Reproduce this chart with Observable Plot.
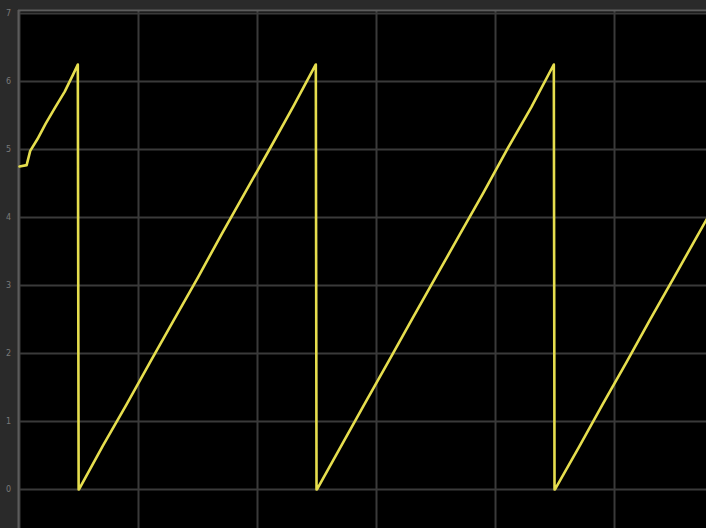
<!DOCTYPE html>
<html>
<head>
<meta charset="utf-8">
<script src="https://cdn.jsdelivr.net/npm/d3@7"></script>
<script src="https://cdn.jsdelivr.net/npm/@observablehq/plot@0.6"></script>
<style>
  html, body { margin: 0; padding: 0; background: #2c2c2c; }
  svg { display: block; }
</style>
</head>
<body>
<div id="chart"></div>
<script>
// Time (grid divisions) and signal values
const time = [
  0.00, 0.06, 0.09, 0.15, 0.22, 0.30, 0.38, 0.45, 0.49, 0.497,
  0.50, 0.70, 0.90, 1.10, 1.30, 1.50, 1.70, 1.90, 2.10, 2.30, 2.49, 2.496,
  2.50, 2.70, 2.90, 3.10, 3.30, 3.50, 3.70, 3.90, 4.10, 4.30, 4.49, 4.496,
  4.50, 4.70, 4.90, 5.10, 5.30, 5.50, 5.773
];
const value = [
  4.75, 4.77, 4.98, 5.15, 5.38, 5.62, 5.85, 6.10, 6.25, 0.00,
  0.00, 0.64, 1.25, 1.88, 2.50, 3.12, 3.76, 4.38, 5.00, 5.63, 6.25, 0.00,
  0.00, 0.63, 1.26, 1.88, 2.51, 3.13, 3.75, 4.37, 5.01, 5.62, 6.25, 0.00,
  0.00, 0.62, 1.25, 1.87, 2.50, 3.12, 3.97
];
const yTicks = [0, 1, 2, 3, 4, 5, 6, 7];
const xGrid = [0, 1, 2, 3, 4, 5];

const data = time.map((t, i) => ({t, v: value[i]}));
const xDomain = [-0.0084, 5.773];
const yDomain = [-0.574, 7.044];

const chart = Plot.plot({
  width: 706,
  height: 528,
  marginLeft: 18,
  marginTop: 10,
  marginRight: 0,
  marginBottom: 0,
  style: {background: "#2a2a2a", fontFamily: "DejaVu Sans, sans-serif"},
  x: {domain: xDomain, axis: null},
  y: {domain: yDomain},
  marks: [
    Plot.frame({fill: "#000000", stroke: null}),
    Plot.gridY(yTicks, {stroke: "#3a3a3a", strokeOpacity: 1, strokeWidth: 2}),
    Plot.gridX(xGrid, {stroke: "#3a3a3a", strokeOpacity: 1, strokeWidth: 2}),
    Plot.ruleX([xDomain[0]], {stroke: "#5c5c5c", strokeWidth: 2}),
    Plot.ruleY([yDomain[1]], {stroke: "#5c5c5c", strokeWidth: 2}),
    Plot.axisY(yTicks, {tickSize: 0, tickPadding: 10, textAnchor: "middle", tickFormat: "d", fill: "#7a7a7a", fontSize: 8, label: null}),
    Plot.line(data, {x: "t", y: "v", stroke: "#e6de4e", strokeWidth: 2.6, strokeLinejoin: "round"})
  ]
});
document.getElementById("chart").appendChild(chart);
</script>
</body>
</html>
